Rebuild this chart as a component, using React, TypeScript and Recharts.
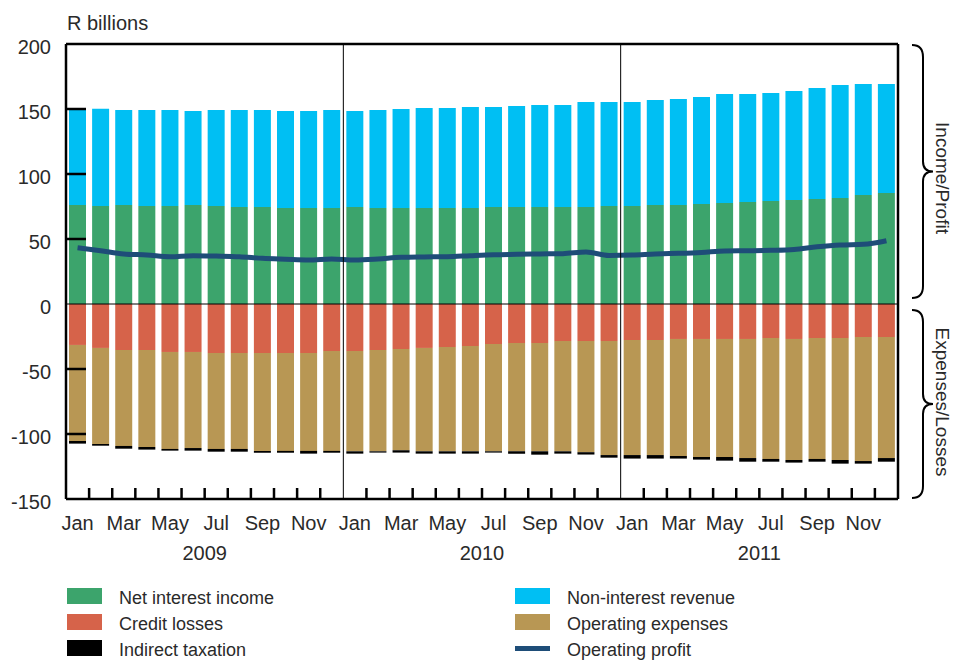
import React from 'react';
import {
  ComposedChart, Bar, Line, XAxis, YAxis, ReferenceLine, Legend,
} from 'recharts';

if (typeof document !== 'undefined') {
  document.body.style.margin = '0';
  document.body.style.overflow = 'hidden';
}

const MONTHS = ['Jan', 'Feb', 'Mar', 'Apr', 'May', 'Jun', 'Jul', 'Aug', 'Sep', 'Oct', 'Nov', 'Dec'];
const YEARS = ['2009', '2010', '2011'];
const Y_TICKS = [-150, -100, -50, 0, 50, 100, 150, 200];
const INNER_TICKS = [-100, -50, 50, 100, 150];

const netInterestIncome = [
  76.2, 75.4, 76.2, 75.4, 75.4, 76.2, 75.4, 74.6, 74.6, 73.8, 73.8, 73.8,
  74.6, 73.8, 73.8, 73.8, 73.8, 73.8, 74.6, 74.6, 74.6, 74.6, 74.6, 75.4,
  75.4, 76.2, 76.2, 76.9, 77.7, 78.5, 79.2, 80.0, 80.8, 81.5, 83.8, 85.4,
];
const nonInterestRevenue = [
  73.6, 74.8, 73.0, 73.8, 73.8, 72.3, 73.8, 74.6, 74.6, 74.7, 74.7, 75.4,
  73.9, 75.4, 76.2, 77.0, 77.0, 77.7, 76.9, 77.7, 78.5, 78.5, 80.8, 80.0,
  80.0, 80.7, 81.5, 82.3, 83.8, 83.0, 83.1, 83.8, 85.4, 87.0, 85.4, 83.8,
];
const creditLosses = [
  -31.5, -33.8, -35.4, -35.4, -36.9, -36.9, -37.7, -37.7, -37.7, -37.7, -37.7, -36.2,
  -36.2, -35.4, -34.6, -33.8, -33.1, -32.3, -30.8, -30.0, -30.0, -28.5, -28.5, -28.5,
  -27.7, -27.7, -26.9, -26.9, -26.9, -26.9, -26.2, -26.9, -26.2, -26.2, -25.4, -25.4,
];
const operatingExpenses = [
  -73.9, -73.9, -73.8, -74.6, -74.6, -73.9, -73.8, -73.8, -75.3, -75.3, -75.3, -76.8,
  -77.1, -77.9, -77.9, -79.5, -80.2, -81.0, -82.5, -83.3, -83.3, -84.8, -85.5, -87.7,
  -88.5, -88.5, -90.0, -90.8, -90.8, -91.6, -93.0, -93.1, -93.0, -93.8, -95.4, -93.1,
];
const indirectTaxation = [
  -2.0, -1.3, -2.1, -2.0, -1.3, -2.0, -2.1, -2.1, -1.4, -1.4, -2.1, -1.4,
  -1.8, -1.0, -1.8, -1.8, -1.8, -1.8, -1.0, -1.8, -2.6, -1.8, -1.8, -2.0,
  -2.7, -2.7, -2.0, -2.0, -2.8, -2.8, -2.1, -2.0, -2.1, -2.8, -2.0, -2.8,
];
const operatingProfit = [
  43.3, 41.0, 38.5, 37.7, 36.4, 37.2, 36.9, 36.4, 35.1, 34.4, 33.8, 34.6,
  33.8, 34.6, 35.9, 36.2, 36.4, 37.2, 37.9, 38.2, 38.5, 38.7, 40.0, 37.4,
  37.7, 38.5, 39.0, 39.7, 40.8, 41.0, 41.3, 42.0, 44.0, 45.4, 45.9, 48.7,
];

const LEGEND_ORDER = [
  'Net interest income', 'Non-interest revenue',
  'Credit losses', 'Operating expenses',
  'Indirect taxation', 'Operating profit',
];

const data = netInterestIncome.map((_, i) => ({
  key: `${MONTHS[i % 12]} ${YEARS[Math.floor(i / 12)]}`,
  month: MONTHS[i % 12],
  year: YEARS[Math.floor(i / 12)],
  nii: netInterestIncome[i],
  nir: nonInterestRevenue[i],
  credit: creditLosses[i],
  opex: operatingExpenses[i],
  tax: indirectTaxation[i],
  profit: operatingProfit[i],
}));

const W = 954;
const H = 660;
const M = { top: 44, right: 56, left: 0, bottom: 91 };
const Y_AXIS_W = 66;
const X_AXIS_H = 70;
const PLOT_W = W - M.right - Y_AXIS_W;
const BAND = PLOT_W / data.length;
const FONT = '"Liberation Sans", Arial, Helvetica, sans-serif';
const TEXT = '#2a2a2a';

const YTick = (props: any) => {
  const { x, y, payload } = props;
  const v = payload.value;
  const axisX = x + 15;
  return (
    <g>
      <text x={x} y={y} dy={10} textAnchor="end" fontSize={20} fill={TEXT} fontFamily={FONT}>{v}</text>
      {INNER_TICKS.includes(v) && (
        <line x1={axisX} x2={axisX + 20} y1={y} y2={y} stroke="#000" strokeWidth={2.5} />
      )}
    </g>
  );
};

const XTick = (props: any) => {
  const { x, y, payload, index } = props;
  const i = typeof index === 'number' ? index : payload.index;
  const half = typeof payload.offset === 'number' && payload.offset > 0 ? payload.offset : BAND / 2;
  const d = data[i];
  return (
    <g>
      {i % 12 !== 11 && (
        <line x1={x + half} x2={x + half} y1={y - 11} y2={y} stroke="#000" strokeWidth={2.5} />
      )}
      {i % 2 === 0 && (
        <text x={x} y={y + 31} textAnchor="middle" fontSize={20} fill={TEXT} fontFamily={FONT}>{d?.month}</text>
      )}
      {i % 12 === 5 && (
        <text x={x + half} y={y + 61} textAnchor="middle" fontSize={20} fill={TEXT} fontFamily={FONT}>{d?.year}</text>
      )}
    </g>
  );
};

const renderLegend = (props: any) => {
  const payload = props.payload || [];
  const byName: Record<string, any> = {};
  payload.forEach((p: any) => { byName[p.value] = p; });
  return (
    <div style={{ display: 'grid', gridTemplateColumns: '448px 320px', fontFamily: FONT }}>
      {LEGEND_ORDER.map((name) => {
        const p = byName[name];
        const color = p ? p.color : '#000';
        const isLine = p && p.type === 'line';
        return (
          <div key={name} style={{ display: 'flex', alignItems: 'center', height: 26 }}>
            <div style={{ width: 35, height: 26, display: 'flex', alignItems: 'center' }}>
              <div style={{ width: 35, height: isLine ? 5 : 16, background: color }} />
            </div>
            <span style={{ marginLeft: 17, fontSize: 18, color: TEXT, lineHeight: '26px', paddingTop: 3 }}>{name}</span>
          </div>
        );
      })}
    </div>
  );
};

const brace = (y0: number, y1: number) => {
  const L = 912, S = 923, P = 933;
  const ym = (y0 + y1) / 2;
  return `M ${L} ${y0} Q ${S} ${y0} ${S} ${y0 + 12} L ${S} ${ym - 10} Q ${S} ${ym} ${P} ${ym} Q ${S} ${ym} ${S} ${ym + 10} L ${S} ${y1 - 12} Q ${S} ${y1} ${L} ${y1}`;
};

export default function App() {
  return (
    <div style={{ position: 'relative', width: W, height: H, overflow: 'hidden', background: '#fff' }}>
      <ComposedChart width={W} height={H} data={data} margin={M} stackOffset="sign" barSize={17}>
        <Bar dataKey="nii" name="Net interest income" stackId="s" fill="#3CA46C" isAnimationActive={false} />
        <Bar dataKey="nir" name="Non-interest revenue" stackId="s" fill="#00BFF3" isAnimationActive={false} />
        <Bar dataKey="credit" name="Credit losses" stackId="s" fill="#D6634A" isAnimationActive={false} />
        <Bar dataKey="opex" name="Operating expenses" stackId="s" fill="#B89754" isAnimationActive={false} />
        <Bar dataKey="tax" name="Indirect taxation" stackId="s" fill="#000000" isAnimationActive={false} />
        <Line dataKey="profit" name="Operating profit" type="monotone" stroke="#1E4D78" strokeWidth={5}
          dot={false} activeDot={false} isAnimationActive={false} legendType="line" />
        <ReferenceLine y={0} stroke="#000" strokeWidth={1} />
        <ReferenceLine y={200} stroke="#000" strokeWidth={2.5} />
        <ReferenceLine x="Jan 2010" position="start" stroke="#000" strokeWidth={1} />
        <ReferenceLine x="Jan 2011" position="start" stroke="#000" strokeWidth={1} />
        <ReferenceLine x="Dec 2011" position="end" stroke="#000" strokeWidth={2.5} />
        <XAxis dataKey="key" interval={0} height={X_AXIS_H} tickLine={false} tickSize={0} tickMargin={0}
          axisLine={{ stroke: '#000', strokeWidth: 2.5 }} tick={<XTick />} />
        <YAxis domain={[-150, 200]} ticks={Y_TICKS} width={Y_AXIS_W} tickLine={false} tickSize={0} tickMargin={15}
          axisLine={{ stroke: '#000', strokeWidth: 2.5 }} tick={<YTick />} interval={0} allowDataOverflow />
        <Legend layout="vertical" align="center" verticalAlign="middle" content={renderLegend}
          wrapperStyle={{ left: 67, top: 583, width: 800, height: 78 }} />
      </ComposedChart>
      <svg width={W} height={H} style={{ position: 'absolute', left: 0, top: 0, pointerEvents: 'none' }}>
        <text x={67} y={30} fontSize={20} fill={TEXT} fontFamily={FONT}>R billions</text>
        <path d={brace(45, 298)} fill="none" stroke="#000" strokeWidth={2} />
        <path d={brace(310, 498)} fill="none" stroke="#000" strokeWidth={2} />
        <text x={936} y={178} transform="rotate(90 936 178)" textAnchor="middle" fontSize={19} fill={TEXT} fontFamily={FONT}>Income/Profit</text>
        <text x={936} y={402} transform="rotate(90 936 402)" textAnchor="middle" fontSize={19} fill={TEXT} fontFamily={FONT}>Expenses/Losses</text>
      </svg>
    </div>
  );
}
